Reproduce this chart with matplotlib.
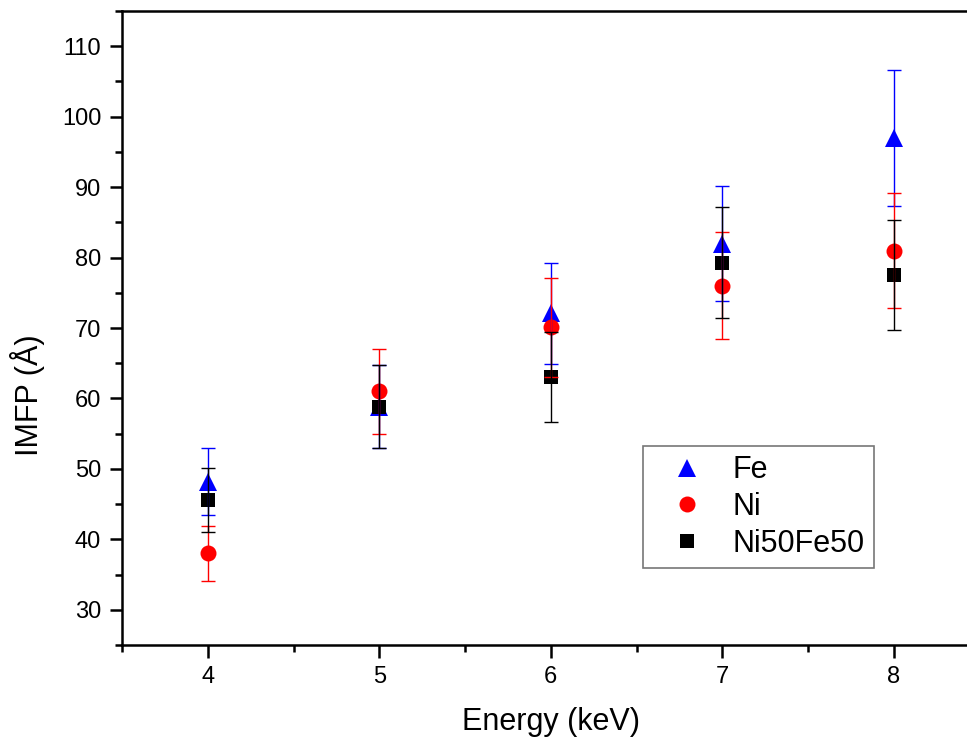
import matplotlib
matplotlib.use('agg')
from matplotlib import pyplot as plt
from matplotlib.ticker import MultipleLocator

plt.rcParams['font.family'] = ['Liberation Sans', 'DejaVu Sans']

energy = [4, 5, 6, 7, 8]

fe = [48.2, 58.8, 72.1, 82.0, 97.0]
fe_err = [4.8, 5.9, 7.2, 8.2, 9.7]

ni = [38.0, 61.0, 70.1, 76.0, 81.0]
ni_err = [3.9, 6.0, 7.0, 7.6, 8.1]

nife = [45.6, 58.8, 63.0, 79.3, 77.5]
nife_err = [4.5, 5.9, 6.4, 7.9, 7.8]

fig = plt.figure(figsize=(9.67, 7.42), dpi=100)
ax = fig.add_axes([0.1262, 0.1307, 0.8868, 0.8544])

series = [
    ('Fe', fe, fe_err, 'blue', '^', 13),
    ('Ni', ni, ni_err, 'red', 'o', 11.5),
    ('Ni50Fe50', nife, nife_err, 'black', 's', 10),
]

handles = []
for name, vals, errs, col, mk, ms in series:
    h, = ax.plot(energy, vals, linestyle='none', marker=mk, color=col,
                 markersize=ms, markeredgewidth=0, label=name, zorder=2)
    handles.append(h)
for name, vals, errs, col, mk, ms in series:
    ax.errorbar(energy, vals, yerr=errs, fmt='none', ecolor=col,
                elinewidth=1.0, capsize=5, capthick=1.0, zorder=3)

ax.set_xlim(3.5, 8.5)
ax.set_ylim(25, 115)
ax.xaxis.set_major_locator(MultipleLocator(1))
ax.xaxis.set_minor_locator(MultipleLocator(0.5))
ax.yaxis.set_major_locator(MultipleLocator(10))
ax.yaxis.set_minor_locator(MultipleLocator(5))
ax.set_yticks(range(30, 111, 10))

ax.tick_params(which='both', direction='out', width=1.8, labelsize=17,
               top=False, right=False)
ax.tick_params(which='major', length=9)
ax.tick_params(which='minor', length=5)
ax.tick_params(axis='x', pad=6)
ax.tick_params(axis='y', pad=6)
for s in ax.spines.values():
    s.set_linewidth(1.8)
ax.spines['right'].set_visible(False)

ax.set_xlabel('Energy (keV)', fontsize=22, labelpad=14)
ax.set_ylabel('IMFP (Å)', fontsize=22)
ax.yaxis.set_label_coords(-0.09, 0.394)

leg = ax.legend(handles=handles, loc='lower left',
                bbox_to_anchor=(0.6076, 0.1215), fontsize=22,
                frameon=True, fancybox=False, shadow=False,
                borderpad=0.3, labelspacing=0.22, handletextpad=0.33,
                handlelength=2.3, borderaxespad=0)
leg.get_frame().set_edgecolor('#555555')
leg.get_frame().set_linewidth(1.2)

plt.savefig('out.png', dpi=100)
